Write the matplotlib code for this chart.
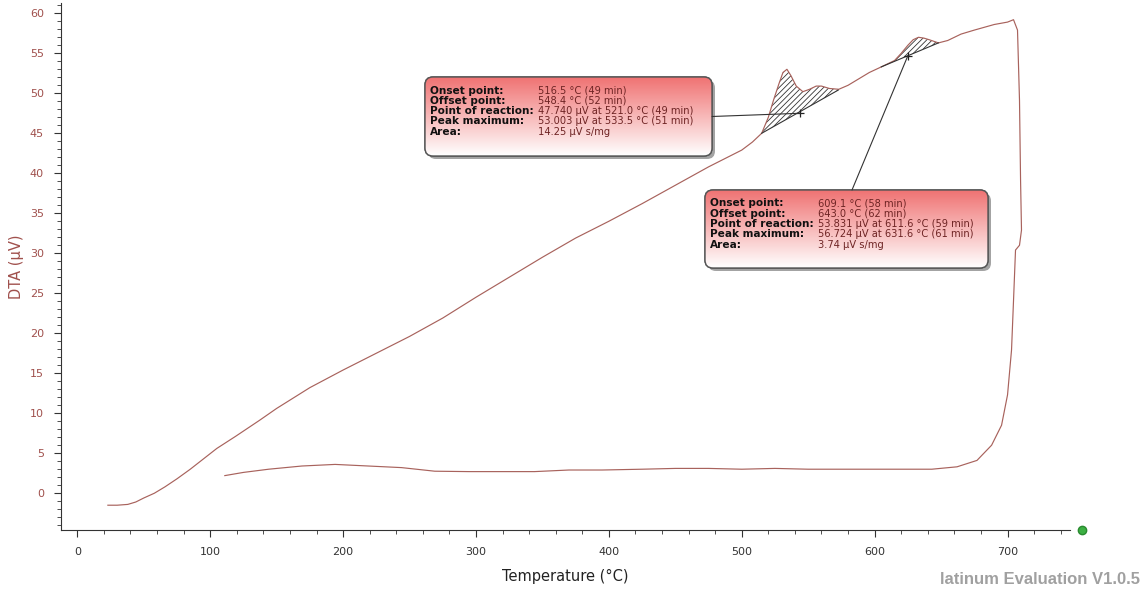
import numpy as np
import matplotlib
matplotlib.use("Agg")
import matplotlib.pyplot as plt
from matplotlib.patches import FancyBboxPatch, ConnectionPatch
from matplotlib.ticker import MultipleLocator

# heating run (temperature in degC, DTA in uV)
heat_temp = [23, 30, 38, 44, 50, 58, 66, 75, 85, 95, 105, 119, 137, 150, 175, 200, 225, 250, 275, 300,
             325, 350, 375, 400, 425, 450, 475, 500, 508, 515, 520, 524, 528, 531, 534, 537, 541, 546,
             551, 556, 560, 566, 573, 580, 588, 596, 605, 610, 615, 620, 625, 629, 633, 637, 641, 648,
             655, 665, 675, 690, 700, 704.5]
heat_dta = [-1.5, -1.5, -1.4, -1.1, -0.6, 0.0, 0.8, 1.8, 3.0, 4.3, 5.6, 7.1, 9.1, 10.6, 13.2, 15.4, 17.5,
            19.6, 21.9, 24.5, 27.0, 29.5, 31.9, 34.0, 36.2, 38.5, 40.8, 42.9, 43.9, 45.0, 47.0, 49.2,
            51.2, 52.6, 53.0, 52.2, 50.9, 50.2, 50.5, 50.9, 50.9, 50.6, 50.5, 51.0, 51.8, 52.6, 53.3,
            53.7, 54.1, 55.0, 56.0, 56.7, 57.0, 56.9, 56.7, 56.3, 56.6, 57.4, 57.9, 58.6, 58.9, 59.2]

# cooling run back down
cool_temp = [707.5, 709, 709.8, 710.5, 709, 706, 704.5, 703, 700, 695.5, 688, 677, 662, 643, 620, 600,
             575, 550, 525, 500, 475, 450, 425, 395, 370, 344, 320, 295, 269, 244, 219, 194, 169, 144,
             125, 111]
cool_dta = [57.9, 49.1, 39.1, 32.9, 31.0, 30.4, 24.1, 17.9, 12.3, 8.5, 6.0, 4.1, 3.3, 3.0, 3.0, 3.0,
            3.0, 3.0, 3.1, 3.0, 3.1, 3.1, 3.0, 2.9, 2.9, 2.7, 2.7, 2.7, 2.75, 3.2, 3.4, 3.6, 3.4, 3.0,
            2.6, 2.2]

# peak baselines and reaction points
base1_temp = [515.0, 572.6]
base1_dta = [45.0, 50.4]
base2_temp = [605.0, 648.0]
base2_dta = [53.3, 56.3]
react_temp = [543.8, 625.0]
react_dta = [47.5, 54.7]

labels = ["Onset point:", "Offset point:", "Point of reaction:", "Peak maximum:", "Area:"]
peak1_vals = ["516.5 \u00b0C (49 min)", "548.4 \u00b0C (52 min)",
              "47.740 \u00b5V at 521.0 \u00b0C (49 min)", "53.003 \u00b5V at 533.5 \u00b0C (51 min)",
              "14.25 \u00b5V s/mg"]
peak2_vals = ["609.1 \u00b0C (58 min)", "643.0 \u00b0C (62 min)",
              "53.831 \u00b5V at 611.6 \u00b0C (59 min)", "56.724 \u00b5V at 631.6 \u00b0C (61 min)",
              "3.74 \u00b5V s/mg"]

line_col = "#a8625c"
red_txt = "#a0504c"

plt.rcParams['hatch.linewidth'] = 0.6
fig = plt.figure(figsize=(11.4, 5.91), dpi=100)
ax = fig.add_axes([60.7/1140, 61/591, 1009.3/1140, 526.7/591])

ax.plot(heat_temp + cool_temp, heat_dta + cool_dta, color=line_col, lw=0.85)

# hatched peak areas
for bt, bd in [(base1_temp, base1_dta), (base2_temp, base2_dta)]:
    t = np.linspace(bt[0], bt[1], 80)
    ax.fill_between(t, np.interp(t, heat_temp, heat_dta), np.interp(t, bt, bd),
                    facecolor="none", edgecolor="#333333", hatch="//////", linewidth=0)
    ax.plot(bt, bd, color="#333333", lw=0.8)
ax.plot(react_temp, react_dta, "+", color="#222222", ms=6, mew=0.9)

ax.set_xlim(-12.5, 747)
ax.set_ylim(-4.6, 61.25)
ax.xaxis.set_major_locator(MultipleLocator(100))
ax.xaxis.set_minor_locator(MultipleLocator(20))
ax.yaxis.set_major_locator(MultipleLocator(5))
ax.yaxis.set_minor_locator(MultipleLocator(1))
ax.set_yticks(range(0, 61, 5))
ax.set_xticks(range(0, 701, 100))
for s in ["top", "right"]:
    ax.spines[s].set_visible(False)
for s in ["left", "bottom"]:
    ax.spines[s].set_color("#333333")
ax.tick_params(axis="both", which="major", length=5, width=0.8, color="#333333", pad=7)
ax.tick_params(axis="both", which="minor", length=3, width=0.6, color="#333333")
ax.tick_params(axis="y", labelcolor=red_txt, labelsize=8)
ax.tick_params(axis="x", labelcolor="#333333", labelsize=8, pad=7)
ax.set_ylabel("DTA (\u00b5V)", color=red_txt, fontsize=10.5, labelpad=4)
ax.set_xlabel("Temperature (\u00b0C)", color="#222222", fontsize=10.5, labelpad=9)

# green status dot outside the axis
ax.plot([756], [-4.6], "o", color="#3cb043", mec="#2a8a30", ms=6, clip_on=False)

# overlay in pixel units for the info boxes
ov = fig.add_axes([0, 0, 1, 1])
ov.set_xlim(0, 1140)
ov.set_ylim(591, 0)
ov.axis("off")

grad = np.linspace(0, 1, 100)[:, None]
top = np.array([0.94, 0.45, 0.45])
rgb = top[None, None, :] * (1 - grad[..., None]) + np.ones(3)[None, None, :] * grad[..., None]


def info_box(x0, y0, w, h, vals):
    shadow = FancyBboxPatch((x0 + 3, y0 + 3), w, h, boxstyle="round,pad=0,rounding_size=8",
                            facecolor="#666666", edgecolor="none", alpha=0.6, zorder=2)
    ov.add_patch(shadow)
    box = FancyBboxPatch((x0, y0), w, h, boxstyle="round,pad=0,rounding_size=8",
                         facecolor="white", edgecolor="#555555", lw=1.0, zorder=3)
    ov.add_patch(box)
    im = ov.imshow(rgb, extent=[x0, x0 + w, y0 + h, y0], aspect="auto", zorder=3.5)
    im.set_clip_path(box)
    edge = FancyBboxPatch((x0, y0), w, h, boxstyle="round,pad=0,rounding_size=8",
                          facecolor="none", edgecolor="#555555", lw=1.0, zorder=4)
    ov.add_patch(edge)
    for i, (lab, v) in enumerate(zip(labels, vals)):
        y = y0 + 13.5 + i * 10.3
        ov.text(x0 + 5, y, lab, fontsize=7.6, fontweight="bold", color="#111111", va="center", zorder=5)
        ov.text(x0 + 113, y, v, fontsize=7.15, color="#6e2424", va="center", zorder=5)


info_box(425, 77, 287, 79, peak1_vals)
info_box(705, 190, 283, 78, peak2_vals)
ov.set_xlim(0, 1140)
ov.set_ylim(591, 0)

# connector lines from boxes to reaction points
fig.add_artist(ConnectionPatch(xyA=(react_temp[0], react_dta[0]), coordsA=ax.transData,
                               xyB=(712, 116.5), coordsB=ov.transData, color="#333333", lw=0.8))
fig.add_artist(ConnectionPatch(xyA=(react_temp[1], react_dta[1]), coordsA=ax.transData,
                               xyB=(852, 190), coordsB=ov.transData, color="#333333", lw=0.8))

fig.text(940/1140, 1 - 579/591, "latinum Evaluation V1.0.5", family="Liberation Sans",
         fontweight="bold", fontsize=12, color="#a0a0a0", va="center")

fig.savefig("out.png", dpi=100)
